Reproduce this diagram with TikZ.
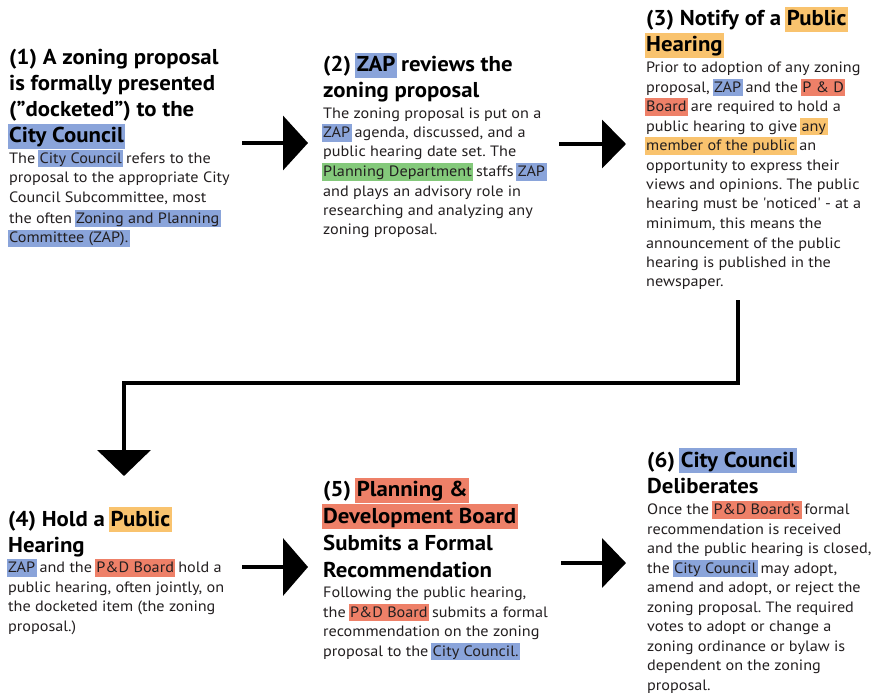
\documentclass[tikz,border=0pt]{standalone}
\usepackage{fontspec}
\setmainfont{PT Sans}
\newfontfamily\bodyfont{PT Sans}[FakeStretch=1.08]
\newfontfamily\titlefont{PT Sans}[FakeStretch=1.06]
\usetikzlibrary{arrows.meta}
\frenchspacing
\definecolor{hlblue}{HTML}{8AA4DA}
\definecolor{hlorange}{HTML}{F9C36E}
\definecolor{hlred}{HTML}{EE8068}
\definecolor{hlgreen}{HTML}{84C97B}
\definecolor{txt}{HTML}{231F20}
\newsavebox\hlbox
\newcommand\hl[2]{\sbox\hlbox{#2}\rlap{\kern-1.5pt\textcolor{#1}{\rule[-0.27em]{\dimexpr\wd\hlbox+3pt\relax}{1.17em}}}\usebox\hlbox}
\tikzset{
  ttl/.style={anchor=base west, inner sep=0pt, align=left, font=\titlefont\fontsize{21.5}{26}\selectfont\bfseries, text=black},
  bdy/.style={anchor=base west, inner sep=0pt, align=left, font=\bodyfont\fontsize{15}{19.5}\selectfont, text=txt},
  flow/.style={line width=4pt, draw=black, miter limit=10},
}
\begin{document}
\begin{tikzpicture}[x=1pt,y=-1pt]
\frenchspacing
\useasboundingbox (0,0) rectangle (871,698);
% block 1 (anchors at last-line baselines)
\node[ttl] (t1) at (9,143) {(1) A zoning proposal\\is formally presented\\(”docketed”) to the\\\hl{hlblue}{City Council}};
\node[bdy, font=\bodyfont\fontsize{15}{20}\selectfont] (b1) at (9,243) {The \hl{hlblue}{City Council} refers to the\\proposal to the appropriate City\\Council Subcommittee, most\\the often \hl{hlblue}{Zoning and Planning}\\\hl{hlblue}{Committee (ZAP).}};
% block 2
\node[ttl] (t2) at (323,98) {(2) \hl{hlblue}{ZAP} reviews the\\zoning proposal};
\node[bdy] (b2) at (323,235) {The zoning proposal is put on a\\\hl{hlblue}{ZAP} agenda, discussed, and a\\public hearing date set. The\\\hl{hlgreen}{Planning Department} staffs \hl{hlblue}{ZAP}\\and plays an advisory role in\\researching and analyzing any\\zoning proposal.};
% block 3
\node[ttl] (t3) at (646,52) {(3) Notify of a \hl{hlorange}{Public}\\\hl{hlorange}{Hearing}};
\node[bdy] (b3) at (646,287) {Prior to adoption of any zoning\\proposal, \hl{hlblue}{ZAP} and the \hl{hlred}{P \& D}\\\hl{hlred}{Board} are required to hold a\\public hearing to give \hl{hlorange}{any}\\\hl{hlorange}{member of the public} an\\opportunity to express their\\views and opinions. The public\\hearing must be \textquotesingle noticed\textquotesingle{} - at a\\minimum, this means the\\announcement of the public\\hearing is published in the\\newspaper.};
% block 4
\node[ttl] (t4) at (8,552) {(4) Hold a \hl{hlorange}{Public}\\Hearing};
\node[bdy] (b4) at (8,631) {\hl{hlblue}{ZAP} and the \hl{hlred}{P\&D Board} hold a\\public hearing, often jointly, on\\the docketed item (the zoning\\proposal.)};
% block 5
\node[ttl, font=\titlefont\fontsize{21.5}{26.7}\selectfont\bfseries] (t5) at (323,577) {(5) \hl{hlred}{Planning \&}\\\hl{hlred}{Development Board}\\Submits a Formal\\Recommendation};
\node[bdy] (b5) at (323,656) {Following the public hearing,\\the \hl{hlred}{P\&D Board} submits a formal\\recommendation on the zoning\\proposal to the \hl{hlblue}{City Council.}};
% block 6
\node[ttl] (t6) at (647,493) {(6) \hl{hlblue}{City Council}\\Deliberates};
\node[bdy] (b6) at (647,690) {Once the \hl{hlred}{P\&D Board’s} formal\\recommendation is received\\and the public hearing is closed,\\the \hl{hlblue}{City Council} may adopt,\\amend and adopt, or reject the\\zoning proposal. The required\\votes to adopt or change a\\zoning ordinance or bylaw is\\dependent on the zoning\\proposal.};
% connectors
\coordinate (a1s) at (242,143); \coordinate (a1e) at (308,143);
\coordinate (a2s) at (559,144); \coordinate (a2e) at (626,144);
\coordinate (a3s) at (738,300); \coordinate (a3m1) at (738,383); \coordinate (a3m2) at (124,383); \coordinate (a3e) at (124,476);
\coordinate (a4s) at (242,567); \coordinate (a4e) at (308,567);
\coordinate (a5s) at (561,563); \coordinate (a5e) at (626,563);
\draw[flow,-{Triangle[length=25pt,width=54pt]}] (a1s) -- (a1e);
\draw[flow,-{Triangle[length=24pt,width=48pt]}] (a2s) -- (a2e);
\draw[flow,-{Triangle[length=26pt,width=53pt]}] (a3s) -- (a3m1) -- (a3m2) -- (a3e);
\draw[flow,-{Triangle[length=25pt,width=57pt]}] (a4s) -- (a4e);
\draw[flow,-{Triangle[length=24pt,width=49pt]}] (a5s) -- (a5e);
\end{tikzpicture}
\end{document}
